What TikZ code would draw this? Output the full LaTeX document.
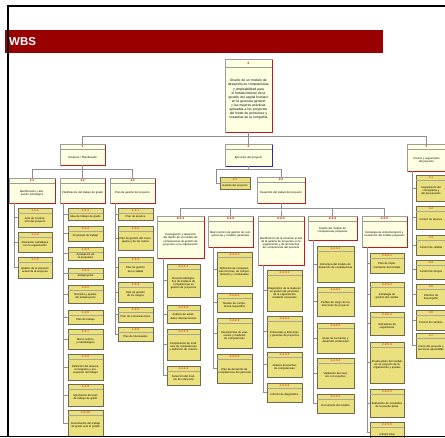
\documentclass[tikz,border=0pt]{standalone}
\usepackage{fontspec}
\setmainfont{Liberation Sans}
\usetikzlibrary{fit}
\definecolor{bannerred}{HTML}{990000}
\definecolor{creamfill}{HTML}{FFFFE2}
\definecolor{leaffill}{HTML}{EBE07E}
\definecolor{leafedge}{HTML}{6E6A4A}
\definecolor{leafshade}{HTML}{9A9680}
\definecolor{boxgray}{HTML}{9C9C9C}
\definecolor{conngray}{HTML}{8E8E8E}
\definecolor{numred}{HTML}{D01010}
\definecolor{numorange}{HTML}{E8561E}
\definecolor{shadered}{HTML}{C81818}
\definecolor{shadeblue}{HTML}{2828A8}
\tikzset{
  creamst/.style={draw=boxgray, line width=0.5pt, fill=creamfill, inner sep=0pt, outer sep=0pt},
  leafst/.style={draw=leafedge, line width=0.5pt, fill=leaffill, inner sep=0pt, outer sep=0pt},
  conn/.style={draw=conngray, line width=0.7pt},
  sepline/.style={draw=boxgray, line width=0.3pt},
  numcream/.style={text=numred, font=\fontsize{3.2}{3.2}\selectfont\bfseries, inner sep=0pt},
  numleaf/.style={text=numorange, font=\fontsize{3.2}{3.2}\selectfont\bfseries, inner sep=0pt},
  txtst/.style={font=\fontsize{2.7}{3.1}\selectfont, align=center, inner sep=0pt, text=black},
  txtroot/.style={font=\fontsize{3.3}{4.1}\selectfont, align=center, inner sep=0pt, text=black},
  framest/.style={draw=black, line width=1.4pt},
}
% cream box: name, x1, y1, x2, y2, number, text, shadow colour
\newcommand\wbscream[8]{%
  \node[creamst, fit={(#2,#3) (#4,#5)}] (#1) {};
  \draw[#8, line width=1.1pt] ([xshift=0.5pt,yshift=-1pt]#1.north east) -- ([xshift=0.5pt,yshift=-0.5pt]#1.south east) -- ([xshift=0.5pt,yshift=-0.5pt]#1.south west);
  \draw[sepline] ([yshift=-5.5pt]#1.north west) -- ([yshift=-5.5pt]#1.north east);
  \node[numcream] (#1n) at ([yshift=-2.8pt]#1.north) {#6};
  \pgfmathsetmacro\wbstw{#4-#2-3}%
  \node[txtst, text width=\wbstw pt] (#1t) at ([yshift=-2.75pt]#1.center) {#7};
}
% leaf box: name, x1, y1, x2, y2, number, text
\newcommand\wbsleaf[7]{%
  \fill[leafshade] (#2+1,#3+1) rectangle (#4+1,#5+1);
  \node[leafst, fit={(#2,#3) (#4,#5)}] (#1) {};
  \draw[sepline, draw=leafedge!60] ([yshift=-5pt]#1.north west) -- ([yshift=-5pt]#1.north east);
  \node[numleaf] (#1n) at ([yshift=-2.6pt]#1.north) {#6};
  \pgfmathsetmacro\wbstw{#4-#2-2.5}%
  \node[txtst, text width=\wbstw pt] (#1t) at ([yshift=-2.5pt]#1.center) {#7};
}
\begin{document}
\begin{tikzpicture}[x=1pt, y=-1pt]
\useasboundingbox (0,0) rectangle (445,438);
\clip (0,0) rectangle (445,438);
\fill[white] (0,0) rectangle (445,438);

% banner
\fill[bannerred] (5,30) rectangle (383,53);
\node[anchor=west, text=white, font=\fontsize{11.5}{12}\selectfont\bfseries, inner sep=0pt] (title) at (9,42) {WBS};

% root
\node[creamst, fit={(225,59) (272,132)}] (root) {};
\draw[shadered, line width=1.1pt] ([xshift=0.5pt,yshift=-1pt]root.north east) -- ([xshift=0.5pt,yshift=-0.5pt]root.south east) -- ([xshift=0.5pt,yshift=-0.5pt]root.south west);
\draw[sepline] ([yshift=-8pt]root.north west) -- ([yshift=-8pt]root.north east);
\node[numcream] (rootn) at ([yshift=-4pt]root.north) {0};
\node[txtroot, text width=43pt] (roott) at ([yshift=-4pt]root.center) {Diseño de un modelo de desarrollo de competencias y empleabilidad para el fortalecimiento de la gestión del capital humano en la gerencia general y las mejores prácticas aplicadas a los proyectos del fondo de pensiones y cesantías de la compañía};

% level 1
\wbscream{la}{60}{144}{105}{165}{1}{Iniciación / Planificación}{shadered}
\wbscream{lb}{225}{144}{272}{166}{2}{Ejecución del proyecto}{shadeblue}
\wbscream{lc}{407}{144}{446}{171}{3}{Control y seguimiento del proyecto}{shadered}
\draw[conn] (root.south) -- ++(0,4) -| (la.north);
\draw[conn] (root.south) -- ++(0,4) -| (lb.north);
\draw[conn] (root.south) -- ++(0,4) -| (lc.north);

% level 2 under 1
\wbscream{ca}{9}{178}{55}{203}{1.1}{Identificación y alineación estratégica}{shadered}
\wbscream{cb}{60}{178}{105}{203}{1.2}{Planificación del trabajo de grado}{shadered}
\wbscream{cc}{110}{178}{155}{203}{1.3}{Plan de gestión del proyecto}{shadered}
\draw[conn] (la.south) -- ++(0,4) -| (ca.north);
\draw[conn] (la.south) -- ++(0,4) -| (cb.north);
\draw[conn] (la.south) -- ++(0,4) -| (cc.north);

% level 2 under 2
\wbsleaf{da}{220}{177}{250}{189}{2.1}{Gestión del proyecto}
\wbscream{db}{257}{177}{305}{203}{2.2}{Desarrollo del trabajo del proyecto}{shadered}
\draw[conn] (lb.south) -- ++(0,3) -| ([xshift=-4pt]da.west) -- (da.west);
\draw[conn] (lb.south) -- ++(0,3) -| (db.north);

% level 3 under 2.2
\wbscream{ea}{157}{216}{204}{258}{2.2.1}{Investigación y desarrollo del diseño de un modelo de competencias de gestión de proyectos en la organización}{shadered}
\wbscream{eb}{208}{216}{253}{247}{2.2.2}{Marco teórico de gestión de competencias y modelos generales}{shadered}
\wbscream{ec}{258}{216}{304}{265}{2.2.3}{Identificación de la situación actual de la gestión de proyectos en la organización y de las brechas de competencias del personal}{shadered}
\wbscream{ed}{308}{216}{357}{240}{2.2.4}{Diseño del modelo de competencias propuesto}{shadered}
\wbscream{ee}{362}{216}{407}{247}{2.2.5}{Estrategia de implementación y evaluación del modelo propuesto}{shadered}
\foreach \e in {ea,eb,ec,ed,ee}{\draw[conn] (db.south) -- ++(0,5) -| (\e.north);}

% leaves 1.1
\foreach \i/\ya/\yb/\t in {1/208/227/{Acta de constitución del proyecto},2/232/252/{Alineación estratégica con la organización},3/257/278/{Análisis de la situación actual de la empresa}}{
  \wbsleaf{fa\i}{18}{\ya}{52}{\yb}{1.1.\i}{\t}
  \draw[conn] ([xshift=5pt]ca.south west) |- (fa\i.west);
}
% leaves 1.2
\foreach \i/\ya/\yb/\t in {1/208/220/{Idea de trabajo de grado},2/226/241/{Propuesta de trabajo},3/247/260/{Aprobación de la propuesta},4/268/279/{Anteproyecto},5/285/303/{Revisión y ajustes del anteproyecto},6/310/324/{Plan de trabajo},7/329/349/{Marco teórico y metodológico},8/354/380/{Definición del alcance, cronograma y presupuesto del trabajo},9/384/406/{Aprobación del plan de trabajo de grado},10/410/436/{Sustentación del trabajo de grado ante el jurado}}{
  \wbsleaf{fb\i}{68}{\ya}{103}{\yb}{1.2.\i}{\t}
  \draw[conn] ([xshift=3pt]cb.south west) |- (fb\i.west);
}
% leaves 1.3
\foreach \i/\ya/\yb/\t in {1/208/220/{Plan de alcance},2/226/250/{Plan de gestión del cronograma y de los costos},3/257/277/{Plan de gestión de la calidad},4/282/302/{Plan de gestión de los riesgos},5/307/322/{Plan de comunicaciones},6/327/341/{Plan de interesados}}{
  \wbsleaf{fc\i}{118}{\ya}{153}{\yb}{1.3.\i}{\t}
  \draw[conn] ([xshift=5pt]cc.south west) |- (fc\i.west);
}
% leaves 2.2.1
\foreach \i/\ya/\yb/\t in {1/264/297/{Revisión bibliográfica de modelos de competencias en gestión de proyectos},2/305/323/{Análisis de estándares internacionales},3/329/360/{Comparación de modelos de competencias y definición de criterios},4/366/385/{Selección del modelo de referencia}}{
  \wbsleaf{ga\i}{167}{\ya}{200}{\yb}{2.2.1.\i}{\t}
  \draw[conn] ([xshift=6pt]ea.south west) |- (ga\i.west);
}
% leaves 2.2.2
\foreach \i/\ya/\yb/\t in {1/252/286/{Definición de competencias técnicas, de comportamiento y contextuales},2/293/312/{Niveles de competencia requeridos},3/318/348/{Herramientas de evaluación y medición de competencias},4/354/383/{Plan de desarrollo de competencias del personal}}{
  \wbsleaf{gb\i}{217}{\ya}{252}{\yb}{2.2.2.\i}{\t}
  \draw[conn] ([xshift=5pt]eb.south west) |- (gb\i.west);
}
% leaves 2.2.3
\foreach \i/\ya/\yb/\t in {1/270/311/{Diagnóstico de la madurez en gestión de proyectos de la organización mediante encuestas},2/316/347/{Entrevistas a directores y gerentes de proyectos},3/352/377/{Análisis de brechas de competencias},4/383/402/{Informe de diagnóstico}}{
  \wbsleaf{gc\i}{267}{\ya}{302}{\yb}{2.2.3.\i}{\t}
  \draw[conn] ([xshift=5pt]ec.south west) |- (gc\i.west);
}
% leaves 2.2.4
\foreach \i/\ya/\yb/\t in {1/246/282/{Estructura del modelo de desarrollo de competencias},2/287/316/{Perfiles de cargo de los directores de proyecto},3/323/353/{Rutas de formación y desarrollo profesional},4/358/388/{Validación del modelo con expertos},5/394/413/{Documento del modelo}}{
  \wbsleaf{gd\i}{317}{\ya}{354}{\yb}{2.2.4.\i}{\t}
  \draw[conn] ([xshift=5pt]ed.south west) |- (gd\i.west);
}
% leaves 2.2.5
\foreach \i/\ya/\yb/\t in {1/253/273/{Plan de implementación del modelo},2/282/306/{Estrategia de gestión del cambio},3/312/335/{Indicadores de seguimiento},4/342/383/{Prueba piloto del modelo en un proyecto de la organización y ajustes},5/389/417/{Evaluación de resultados de la prueba piloto}}{
  \wbsleaf{ge\i}{370}{\ya}{404}{\yb}{2.2.5.\i}{\t}
  \draw[conn] ([xshift=5pt]ee.south west) |- (ge\i.west);
}
\wbsleaf{ge6}{370}{422}{404}{442}{2.2.5.6}{Informe final}
\draw[conn] ([xshift=5pt]ee.south west) |- (ge6.west);
% leaves 3
\foreach \i/\ya/\yb/\t in {1/175/201/{Seguimiento del cronograma y del presupuesto},2/206/229/{Control de alcance},3/235/255/{Control de calidad},4/260/279/{Control de riesgos},5/284/305/{Informes de desempeño},6/310/330/{Control de cambios},7/333/358/{Cierre del proyecto y lecciones aprendidas}}{
  \wbsleaf{h\i}{416}{\ya}{446}{\yb}{3.\i}{\t}
  \draw[conn] ([xshift=5pt]lc.south west) |- (h\i.west);
}

% frame
\draw[framest] (8,436) -- (8,6) -- (446,6);
\draw[framest] (0,436.5) -- (446,436.5);
\end{tikzpicture}
\end{document}
